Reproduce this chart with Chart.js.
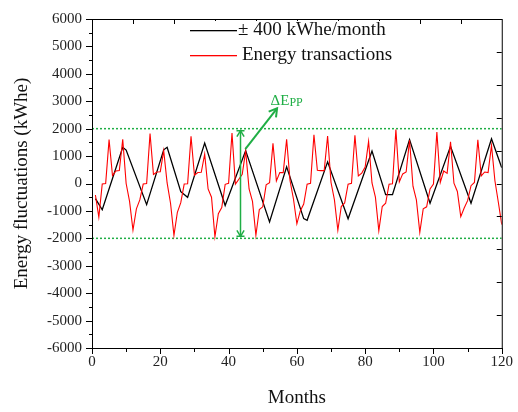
<!DOCTYPE html>
<html>
<head>
<meta charset="utf-8">
<script src="https://cdn.jsdelivr.net/npm/chart.js@4.4.0/dist/chart.umd.min.js"></script>
<style>
  body{margin:0;background:#fff;}
  #wrap{width:518px;height:412px;}
</style>
</head>
<body>
<div id="wrap"><canvas id="chart" width="518" height="412"></canvas></div>
<script>
// ---- data ----
var redMonths = [];
for (var m = 1; m <= 120; m++) { redMonths.push(m); }

var redValues = [
  -420,-1225,-20,0,1600,290,456,470,1615,0,-650,-1700,
  -925,-600,-20,0,1820,330,420,430,1200,20,-720,-1890,
  -1050,-700,-20,-10,1720,300,400,410,1070,-200,-500,-1940,
  -1100,-880,-30,10,1838,-20,156,336,1190,-200,-650,-1886,
  -950,-850,-50,30,1465,96,396,396,1610,100,-565,-1470,
  -1000,-750,-24,5,1778,480,470,470,1730,36,-600,-1706,
  -840,-710,-24,10,1760,276,380,600,1537,20,-500,-1720,
  -840,-720,-24,-10,1970,60,350,420,1580,-100,-600,-1780,
  -925,-850,-200,-24,1880,36,456,370,1520,10,-290,-1210,
  -895,-625,-80,36,1598,276,420,400,1390,100,-685,-1500
];

// black triangle wave, turning points only
var blackMonths = [1,3,9,10,16,21,22,26,28,33,39,45,52,57,62,63,69,75,82,86,88,93,99,105,111,117,120];
var blackValues = [-550,-960,1320,1220,-770,1230,1320,-300,-505,1477,-805,1200,-1400,610,-1280,-1340,790,-1285,1180,-408,-408,1600,-720,1357,-720,1634,577];

var limitMonths = [0,120];
var limitValues = [2000,-2000];

var legendLabels = ['\u00b1 400 kWhe/month','Energy transactions'];
var legendColors = ['#000000','#ff0000'];

var xMajorTicks = [0,20,40,60,80,100,120];
var xMinorTicks = [10,30,50,70,90,110];
var xTopTicks = [12,24,36,48,60,72,84,96,108];
var yRightTicks = [-4800,-3600,-2400,-1200,0,1200,2400,3600,4800];

// annotation positions (data units)
var rangeArrowMonth = 43.2;
var peakArrow = {x0:44.9, y0:1250, x1:54.2, y1:2739};
var peakLabel = {x:52.3, y:3063, text:'\u0394E', sub:'PP'};

var green = '#1fae45';
var serif = "'Liberation Serif','DejaVu Serif',serif";

function pairs(xs, ys){
  var out = [];
  for (var i = 0; i < xs.length; i++) { out.push({x:xs[i], y:ys[i]}); }
  return out;
}

function drawV(ctx, x, y, ang, len){
  ctx.beginPath();
  ctx.moveTo(x + len*Math.cos(ang+2.6), y + len*Math.sin(ang+2.6));
  ctx.lineTo(x, y);
  ctx.lineTo(x + len*Math.cos(ang-2.6), y + len*Math.sin(ang-2.6));
  ctx.stroke();
}

var framePlugin = {
  id:'frame',
  afterDraw: function(chart){
    var ctx = chart.ctx, a = chart.chartArea;
    var xs = chart.scales.x, ys = chart.scales.y;
    var i, p;
    ctx.save();
    ctx.strokeStyle = '#000';
    ctx.lineWidth = 1;
    ctx.strokeRect(a.left+0.5, a.top+0.5, a.right-a.left, a.bottom-a.top);

    ctx.beginPath();
    // bottom ticks (outside)
    for (i = 0; i < xMajorTicks.length; i++) {
      p = Math.round(xs.getPixelForValue(xMajorTicks[i]))+0.5;
      ctx.moveTo(p, a.bottom); ctx.lineTo(p, a.bottom+6);
    }
    for (i = 0; i < xMinorTicks.length; i++) {
      p = Math.round(xs.getPixelForValue(xMinorTicks[i]))+0.5;
      ctx.moveTo(p, a.bottom); ctx.lineTo(p, a.bottom+4);
    }
    // left ticks (outside)
    for (var v = -6000; v <= 6000; v += 500) {
      p = Math.round(ys.getPixelForValue(v))+0.5;
      ctx.moveTo(a.left, p); ctx.lineTo(a.left - (v % 1000 === 0 ? 6 : 3), p);
    }
    // top ticks (inside)
    for (i = 0; i < xTopTicks.length; i++) {
      p = Math.round(xs.getPixelForValue(xTopTicks[i]))+0.5;
      ctx.moveTo(p, a.top); ctx.lineTo(p, a.top+5);
    }
    // right ticks (inside)
    for (i = 0; i < yRightTicks.length; i++) {
      p = Math.round(ys.getPixelForValue(yRightTicks[i]))+0.5;
      ctx.moveTo(a.right, p); ctx.lineTo(a.right-5, p);
    }
    ctx.stroke();

    // legend box
    ctx.fillStyle = '#fff';
    ctx.fillRect(186, a.top+2, 214, 52);
    ctx.font = '19px ' + serif;
    ctx.textBaseline = 'middle';
    for (i = 0; i < legendLabels.length; i++) {
      var ly = 30 + i*25;
      ctx.fillStyle = legendColors[i];
      ctx.fillRect(190, ly, 47, 1.3);
      ctx.fillStyle = '#111';
      ctx.fillText(legendLabels[i], i === 0 ? 238 : 242, ly);
    }

    // vertical double arrow between the limits
    ctx.strokeStyle = green;
    ctx.lineWidth = 1.5;
    var ax = Math.round(xs.getPixelForValue(rangeArrowMonth))+0.5;
    var t = ys.getPixelForValue(limitValues[0]), b = ys.getPixelForValue(limitValues[1]);
    ctx.beginPath();
    ctx.moveTo(ax, t+2); ctx.lineTo(ax, b-2);
    ctx.moveTo(ax-4, t+2); ctx.lineTo(ax+4, t+2);
    ctx.moveTo(ax-4, b-2); ctx.lineTo(ax+4, b-2);
    ctx.stroke();
    drawV(ctx, ax, t+2, -Math.PI/2, 7);
    drawV(ctx, ax, b-2, Math.PI/2, 7);

    // diagonal arrow to the label
    var x0 = xs.getPixelForValue(peakArrow.x0), y0 = ys.getPixelForValue(peakArrow.y0);
    var x1 = xs.getPixelForValue(peakArrow.x1), y1 = ys.getPixelForValue(peakArrow.y1);
    ctx.lineWidth = 2;
    ctx.beginPath(); ctx.moveTo(x0, y0); ctx.lineTo(x1, y1); ctx.stroke();
    drawV(ctx, x1, y1, Math.atan2(y1-y0, x1-x0), 9);

    // label
    ctx.fillStyle = green;
    ctx.textBaseline = 'alphabetic';
    var lx = xs.getPixelForValue(peakLabel.x), lyy = ys.getPixelForValue(peakLabel.y) + 5;
    ctx.font = '15px ' + serif;
    ctx.fillText(peakLabel.text, lx, lyy);
    var w = ctx.measureText(peakLabel.text).width;
    ctx.font = '12px ' + serif;
    ctx.fillText(peakLabel.sub, lx + w, lyy + 1);
    ctx.restore();
  }
};

var ctx = document.getElementById('chart').getContext('2d');
var chart = new Chart(ctx, {
  type:'line',
  data:{
    datasets:[
      {
        label:legendLabels[1],
        data:pairs(redMonths, redValues),
        borderColor:'#ff0000',
        borderWidth:1.1,
        pointRadius:0,
        tension:0,
        order:1
      },
      {
        label:legendLabels[0],
        data:pairs(blackMonths, blackValues),
        borderColor:'#000000',
        borderWidth:1.3,
        pointRadius:0,
        tension:0,
        order:2
      },
      {
        label:'upper',
        data:pairs(limitMonths, [limitValues[0], limitValues[0]]),
        borderColor:green,
        borderWidth:1.5,
        borderDash:[2,2],
        pointRadius:0,
        order:3
      },
      {
        label:'lower',
        data:pairs(limitMonths, [limitValues[1], limitValues[1]]),
        borderColor:green,
        borderWidth:1.5,
        borderDash:[2,2],
        pointRadius:0,
        order:3
      }
    ]
  },
  options:{
    responsive:false,
    animation:false,
    devicePixelRatio:1,
    layout:{padding:{top:15, right:13, left:0, bottom:0}},
    plugins:{legend:{display:false}, tooltip:{enabled:false}},
    scales:{
      x:{
        type:'linear',
        min:0, max:120,
        grid:{display:false, drawTicks:false},
        border:{display:false},
        ticks:{stepSize:20, padding:5, color:'#222', font:{family:serif, size:15}},
        title:{display:true, text:'Months', color:'#111', font:{family:serif, size:19}, padding:{top:4, bottom:3}},
        afterFit:function(scale){ scale.height = 64; }
      },
      y:{
        min:-6000, max:6000,
        grid:{display:false, drawTicks:false},
        border:{display:false},
        ticks:{stepSize:1000, padding:10, color:'#222', font:{family:serif, size:15},
          callback:function(v){ return String(v); }},
        title:{display:true, text:'Energy fluctuations (kWhe)', color:'#111', font:{family:serif, size:19}, padding:{top:11, bottom:0}},
        afterFit:function(scale){ scale.width = 92; }
      }
    }
  },
  plugins:[framePlugin]
});
</script>
</body>
</html>
